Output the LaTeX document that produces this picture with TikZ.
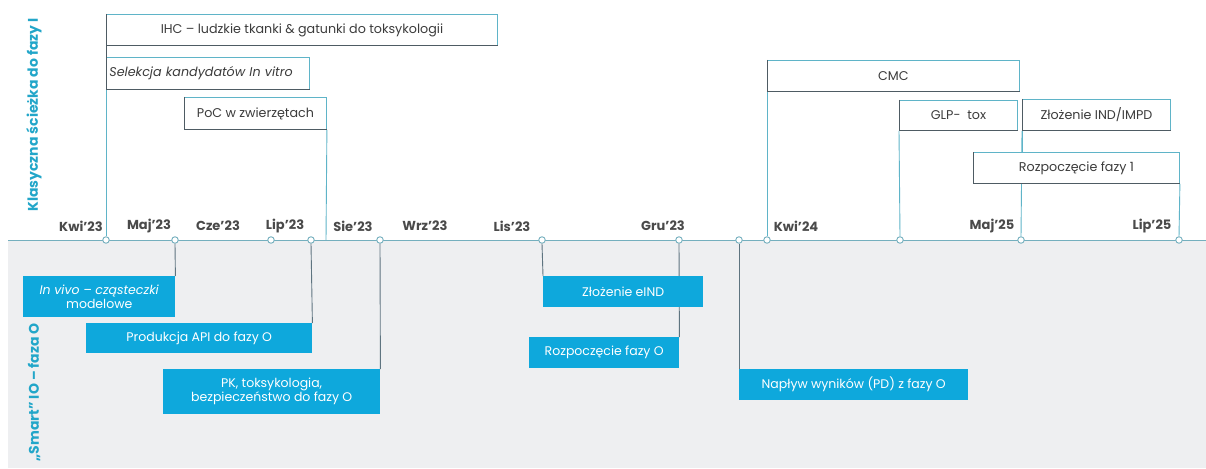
\documentclass[tikz,border=0pt]{standalone}
\usepackage{fontspec}
\setmainfont{Poppins}
\definecolor{bgray}{HTML}{EEEFF1}
\definecolor{cyanbox}{HTML}{0EA8DC}
\definecolor{tealline}{HTML}{5FB4C8}
\definecolor{darkedge}{HTML}{4E5B63}
\definecolor{lowline}{HTML}{5E7480}
\definecolor{axisc}{HTML}{74AFBE}
\definecolor{labelc}{HTML}{22A6C9}
\definecolor{monthc}{HTML}{4A4A4A}
\definecolor{txt}{HTML}{3C3C3C}
\tikzset{
 topbox/.style={draw=tealline, fill=white, line width=0.9pt, inner sep=0pt, anchor=north west, text=txt, font=\fontsize{12.7}{14}\selectfont},
 lowbox/.style={fill=cyanbox, inner sep=0pt, anchor=north west, text=white, font=\fontsize{12.5}{14}\selectfont, align=center},
 tdot/.style={circle, draw=axisc, fill=white, line width=0.9pt, minimum size=6.5pt, inner sep=0pt},
 upconn/.style={draw=tealline, line width=0.9pt},
 lowconn/.style={draw=lowline, line width=0.9pt},
 darkside/.style={draw=darkedge, line width=0.9pt},
 month/.style={font=\fontsize{13}{15}\selectfont\bfseries, text=monthc},
 sidelabel/.style={rotate=90, font=\fontsize{14}{16}\selectfont\bfseries, text=labelc},
}
\begin{document}
\begin{tikzpicture}[x=1pt,y=-1pt]
\useasboundingbox (0,0) rectangle (1206,468);
\clip (0,0) rectangle (1206,468);
\fill[white] (0,0) rectangle (1206,468);
\fill[bgray] (8,240) rectangle (1206,468);

% axis
\coordinate (axl) at (8,240);
\coordinate (axr) at (1206,240);
\draw[draw=axisc, line width=1pt] (axl) -- (axr);

% dots
\node[tdot] (d1) at (106,240) {};
\node[tdot] (d2) at (175,240) {};
\node[tdot] (d3) at (271,240) {};
\node[tdot] (d4) at (311,240) {};
\node[tdot] (d5) at (380,240) {};
\node[tdot] (d6) at (542,240) {};
\node[tdot] (d7) at (679,240) {};
\node[tdot] (d8) at (739,240) {};
\node[tdot] (d9) at (767,240) {};
\node[tdot] (d10) at (900,240) {};
\node[tdot] (d11) at (1021,240) {};
\node[tdot] (d12) at (1179,240) {};
\coordinate (pocend) at (326,240);

% top box frames (for connector anchors)
\path (106,14) node[topbox, minimum width=391pt, minimum height=31pt, draw=none, fill=none] (ihc) {};
\path (106,57) node[topbox, minimum width=203pt, minimum height=32pt, draw=none, fill=none] (sel) {};
\path (184,97) node[topbox, minimum width=142pt, minimum height=32pt, draw=none, fill=none] (poc) {};
\path (767,60) node[topbox, minimum width=252pt, minimum height=31pt, draw=none, fill=none] (cmc) {};
\path (899,100) node[topbox, minimum width=118pt, minimum height=30pt, draw=none, fill=none] (glp) {};
\path (1022,99) node[topbox, minimum width=148pt, minimum height=31pt, draw=none, fill=none] (ind) {};
\path (973,152) node[topbox, minimum width=206pt, minimum height=31pt, draw=none, fill=none] (rf1) {};

% upper connectors
\draw[upconn] (sel.south west) -- (d1.north);
\draw[darkside] (ihc.south west) -- (sel.north west);
\draw[upconn] (poc.south east) -- (pocend);
\draw[upconn] (cmc.south west) -- (d9.north);
\draw[upconn] (glp.south west) -- (d10.north);
\draw[upconn] (ind.south west) -- (d11.north);
\draw[upconn] (rf1.south east) -- (d12.north);

% top boxes drawn
\node[topbox, minimum width=391pt, minimum height=31pt] (ihcb) at (106,14) {IHC – ludzkie tkanki \& gatunki do toksykologii};
\node[topbox, minimum width=203pt, minimum height=32pt, text width=197pt, inner xsep=3pt, align=left, font=\fontsize{12.7}{14}\selectfont\itshape] (selb) at (106,57) {Selekcja kandydatów In vitro};
\node[topbox, minimum width=142pt, minimum height=32pt] (pocb) at (184,97) {PoC w zwierzętach};
\node[topbox, minimum width=252pt, minimum height=31pt] (cmcb) at (767,60) {CMC};
\node[topbox, minimum width=118pt, minimum height=30pt] (glpb) at (899,100) {GLP-\ \ tox};
\node[topbox, minimum width=148pt, minimum height=31pt] (indb) at (1022,99) {Złożenie IND/IMPD};
\node[topbox, minimum width=206pt, minimum height=31pt] (rf1b) at (973,152) {Rozpoczęcie fazy 1};
\foreach \b in {ihcb,selb,pocb,cmcb,glpb,indb,rf1b}{
  \draw[darkside] (\b.north west) -- (\b.south west) -- (\b.south east);
}
\draw[upconn] (indb.south west) -- (rf1b.north west -| indb.south west);

% lower box frames
\path (23,276) node[lowbox, minimum width=152pt, minimum height=41pt, fill=none] (viv) {};
\path (86,323) node[lowbox, minimum width=226pt, minimum height=30pt, fill=none] (api) {};
\path (163,369) node[lowbox, minimum width=217pt, minimum height=45pt, fill=none] (pk) {};
\path (543,276) node[lowbox, minimum width=160pt, minimum height=31pt, fill=none] (eind) {};
\path (529,337) node[lowbox, minimum width=150pt, minimum height=31pt, fill=none] (rf0) {};
\path (739,369) node[lowbox, minimum width=229pt, minimum height=31pt, fill=none] (nap) {};

\draw[lowconn] (d2.south) -- (viv.north east);
\draw[lowconn] (d4.south) -- (api.north east);
\draw[lowconn] (d5.south) -- (pk.north east);
\draw[lowconn] (d6.south) -- (eind.north west);
\draw[lowconn] (d7.south) -- (rf0.north east);
\draw[lowconn] (d8.south) -- (nap.north west);

\node[lowbox, minimum width=152pt, minimum height=41pt] (vivb) at (23,276) {{\itshape In vivo – cząsteczki}\\modelowe};
\node[lowbox, minimum width=226pt, minimum height=30pt] (apib) at (86,323) {Produkcja API do fazy O};
\node[lowbox, minimum width=217pt, minimum height=45pt] (pkb) at (163,369) {PK, toksykologia,\\bezpieczeństwo do fazy O};
\node[lowbox, minimum width=160pt, minimum height=31pt] (eindb) at (543,276) {Złożenie eIND};
\node[lowbox, minimum width=150pt, minimum height=31pt] (rf0b) at (529,337) {Rozpoczęcie fazy O};
\node[lowbox, minimum width=229pt, minimum height=31pt] (napb) at (739,369) {Napływ wyników (PD) z fazy O};

% months
\node[month] (m1) at (81,226) {Kwi’23};
\node[month] (m2) at (149,226) {Maj’23};
\node[month] (m3) at (218,226) {Cze’23};
\node[month] (m4) at (285,226) {Lip’23};
\node[month] (m5) at (353,226) {Sie’23};
\node[month] (m6) at (425,226) {Wrz’23};
\node[month] (m7) at (512,226) {Lis’23};
\node[month] (m8) at (663,226) {Gru’23};
\node[month] (m9) at (796,226) {Kwi’24};
\node[month] (m10) at (992,226) {Maj’25};
\node[month] (m11) at (1152,226) {Lip’25};

% side labels
\node[sidelabel] (s1) at (34,115) {Klasyczna ścieżka do fazy I};
\node[sidelabel, anchor=west] (s2) at (34,465) {„Smart” IO – faza O};
\end{tikzpicture}
\end{document}
